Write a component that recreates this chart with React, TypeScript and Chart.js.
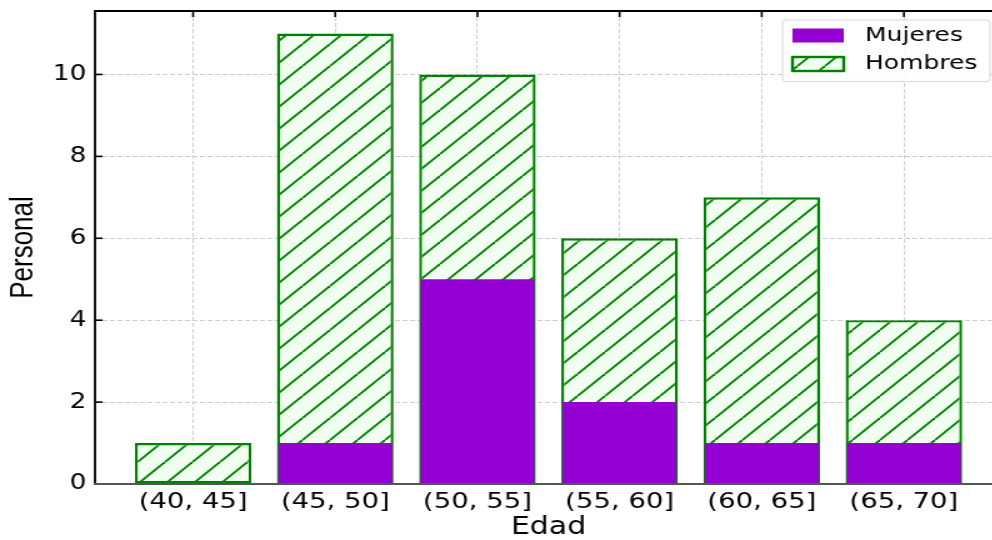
import React, { useEffect, useRef } from "react";
import { Chart, registerables } from "chart.js";

Chart.register(...registerables);

const categories = ["(40, 45]", "(45, 50]", "(50, 55]", "(55, 60]", "(60, 65]", "(65, 70]"];
const mujeres = [0, 1, 5, 2, 1, 1];
// Hombres bars are drawn from zero to the group total, Mujeres on top of them
const hombresTotal = [1, 11, 10, 6, 7, 4];
const yTicks = [0, 2, 4, 6, 8, 10];

const PURPLE = "#9400D3";
const GREEN = "#008000";
const HATCH_BG = "#f0fff0";
const FONT = "'DejaVu Sans', sans-serif";

function makeHatch(): CanvasPattern | string {
  const s = 22;
  const c = document.createElement("canvas");
  c.width = s;
  c.height = s;
  const g = c.getContext("2d");
  if (!g) return HATCH_BG;
  g.fillStyle = HATCH_BG;
  g.fillRect(0, 0, s, s);
  g.strokeStyle = GREEN;
  g.lineWidth = 1.9;
  for (const o of [-s, 0, s]) {
    g.beginPath();
    g.moveTo(o, s);
    g.lineTo(o + s, 0);
    g.stroke();
  }
  return g.createPattern(c, "repeat") || HATCH_BG;
}

const framePlugin = {
  id: "mplFrame",
  beforeDatasetsDraw(chart: any) {
    const { ctx, chartArea: a, scales } = chart;
    ctx.save();
    ctx.strokeStyle = "#000";
    ctx.lineWidth = 1.6;
    const len = 6;
    for (const t of scales.y.ticks) {
      const py = scales.y.getPixelForValue(t.value);
      ctx.beginPath();
      ctx.moveTo(a.left, py);
      ctx.lineTo(a.left + len, py);
      ctx.stroke();
    }
    for (const t of scales.x.ticks) {
      const px = scales.x.getPixelForValue(t.value);
      ctx.beginPath();
      ctx.moveTo(px, a.top);
      ctx.lineTo(px, a.top + len);
      ctx.moveTo(px, a.bottom);
      ctx.lineTo(px, a.bottom - len);
      ctx.stroke();
    }
    ctx.restore();
  },
  afterDatasetsDraw(chart: any) {
    const { ctx, chartArea: a } = chart;
    ctx.save();
    ctx.lineCap = "square";
    ctx.strokeStyle = "#000";
    ctx.lineWidth = 1.8;
    ctx.beginPath();
    ctx.moveTo(a.left, a.bottom);
    ctx.lineTo(a.left, a.top);
    ctx.lineTo(a.right, a.top);
    ctx.stroke();
    ctx.strokeStyle = "#555";
    ctx.lineWidth = 2;
    ctx.beginPath();
    ctx.moveTo(a.left, a.bottom);
    ctx.lineTo(a.right, a.bottom);
    ctx.stroke();

    // legend
    const fx = 626, fy = 20, fw = 166, fh = 61.5, r = 3;
    ctx.beginPath();
    ctx.moveTo(fx + r, fy);
    ctx.arcTo(fx + fw, fy, fx + fw, fy + fh, r);
    ctx.arcTo(fx + fw, fy + fh, fx, fy + fh, r);
    ctx.arcTo(fx, fy + fh, fx, fy, r);
    ctx.arcTo(fx, fy, fx + fw, fy, r);
    ctx.closePath();
    ctx.fillStyle = "rgba(255,255,255,0.85)";
    ctx.fill();
    ctx.strokeStyle = "#d6d6d6";
    ctx.lineWidth = 1;
    ctx.stroke();

    const rows = [35.5, 64];
    chart.data.datasets.forEach((ds: any, i: number) => {
      const cy = rows[i];
      const sx = 634, sw = 41, sh = 14;
      ctx.fillStyle = ds.backgroundColor;
      ctx.fillRect(sx, cy - sh / 2, sw, sh);
      if (ds.borderWidth) {
        ctx.strokeStyle = ds.borderColor;
        ctx.lineWidth = ds.borderWidth;
        ctx.strokeRect(sx, cy - sh / 2, sw, sh);
      }
      ctx.fillStyle = "#000";
      ctx.font = `20px ${FONT}`;
      ctx.textBaseline = "middle";
      ctx.textAlign = "left";
      ctx.fillText(ds.label, 692, cy);
    });
    ctx.restore();
  },
};

export default function App() {
  const ref = useRef<HTMLCanvasElement>(null);

  useEffect(() => {
    if (!ref.current) return;
    Chart.defaults.color = "#000";
    const hatch = makeHatch();
    const chart = new Chart(ref.current, {
      type: "bar",
      data: {
        datasets: [
          {
            label: "Mujeres",
            data: categories.map((_, i) => ({ x: i, y: mujeres[i] })),
            backgroundColor: PURPLE,
            borderWidth: 0,
            barPercentage: 0.8,
            categoryPercentage: 1,
            grouped: false,
          } as any,
          {
            label: "Hombres",
            data: categories.map((_, i) => ({ x: i, y: hombresTotal[i] })),
            backgroundColor: hatch,
            borderColor: GREEN,
            borderWidth: 2.4,
            borderSkipped: false,
            barPercentage: 0.82,
            categoryPercentage: 1,
            grouped: false,
          } as any,
        ],
      },
      options: {
        animation: false,
        responsive: false,
        devicePixelRatio: 1,
        events: [],
        layout: { padding: { left: 5.6, top: 11, right: 8.4, bottom: 0 } },
        plugins: { legend: { display: false }, tooltip: { enabled: false } },
        scales: {
          x: {
            type: "linear",
            min: -0.69,
            max: 5.69,
            offset: false,
            afterBuildTicks: (scale: any) => {
              scale.ticks = categories.map((_, i) => ({ value: i }));
            },
            afterFit: (scale: any) => {
              scale.height = 56;
              scale.paddingLeft = 0;
              scale.paddingRight = 0;
            },
            ticks: {
              autoSkip: false,
              maxRotation: 0,
              padding: 5,
              font: { family: FONT, size: 22 },
              color: "#000",
              callback: (v: any) => categories[Math.round(Number(v))] ?? "",
            },
            grid: { color: "#cccccc", lineWidth: 1, drawTicks: false, offset: false },
            border: { display: false, dash: [4, 2] },
            title: {
              display: true,
              text: "Edad",
              font: { family: FONT, size: 24, lineHeight: 1 },
              padding: { top: 0, bottom: 0 },
              color: "#000",
            },
          },
          y: {
            type: "linear",
            min: 0,
            max: 11.55,
            afterBuildTicks: (scale: any) => {
              scale.ticks = yTicks.map((v) => ({ value: v }));
            },
            afterFit: (scale: any) => {
              scale.width = 70.4;
              scale.paddingTop = 0;
              scale.paddingBottom = 0;
            },
            ticks: {
              padding: 7,
              font: { family: FONT, size: 21 },
              color: "#000",
            },
            grid: { color: "#cccccc", lineWidth: 1, drawTicks: false },
            border: { display: false, dash: [4, 2] },
            title: {
              display: true,
              text: "Personal",
              font: { family: "'Liberation Sans Narrow', 'Liberation Sans', sans-serif", size: 26, lineHeight: 1 },
              padding: { top: 0, bottom: 0 },
              color: "#000",
            },
          },
        },
      } as any,
      plugins: [framePlugin],
    });
    return () => chart.destroy();
  }, []);

  return (
    <div
      style={{
        position: "fixed",
        left: 0,
        top: 0,
        width: 992,
        height: 540,
        overflow: "hidden",
        background: "#fff",
      }}
    >
      <canvas
        ref={ref}
        width={810}
        height={540}
        style={{
          display: "block",
          width: 810,
          height: 540,
          transform: "scale(1.25, 1)",
          transformOrigin: "0 0",
        }}
      />
    </div>
  );
}
